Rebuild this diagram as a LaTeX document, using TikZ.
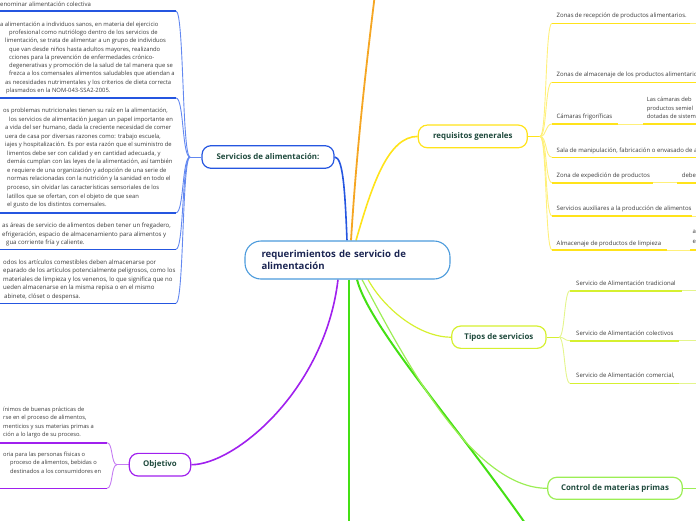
\documentclass[tikz,border=0pt]{standalone}
\usepackage{fontspec}
\setmainfont{Open Sans}
\usetikzlibrary{calc}
\definecolor{txtc}{HTML}{3A3A3A}
\definecolor{lblc}{HTML}{1F4A3D}
\definecolor{navy}{HTML}{1B2552}
\definecolor{cblue}{HTML}{4C9BDC}
\definecolor{bl}{HTML}{2556E0}
\definecolor{bll}{HTML}{6388F0}
\definecolor{orng}{HTML}{F5A623}
\definecolor{yel}{HTML}{FFE31A}
\definecolor{yell}{HTML}{FFF07A}
\definecolor{lime}{HTML}{D6F030}
\definecolor{limel}{HTML}{E4F58C}
\definecolor{grn}{HTML}{44E014}
\definecolor{lgrn}{HTML}{9CEE55}
\definecolor{pur}{HTML}{A020EE}
\definecolor{purl}{HTML}{C57CF2}
\newcommand\lo[2]{\hspace*{#1pt}#2}
\pgfdeclarelayer{bg}
\pgfsetlayers{bg,main}
\begin{document}
\begin{tikzpicture}[x=1pt,y=-1pt,
 txt/.style={inner sep=0pt,anchor=north west,align=left,text=txtc,font=\fontsize{6.0}{8.4}\selectfont},
 stxt/.style={inner sep=0pt,anchor=base west,text=txtc,font=\fontsize{6.0}{8.4}\selectfont},
 topic/.style={draw,line width=1.2pt,fill=white,rounded corners=9pt,inner sep=0pt,text=lblc,font=\bfseries\fontsize{7.9}{9}\selectfont},
 ul/.style={line width=1.6pt},
 br/.style={line width=0.9pt},
 mainln/.style={line width=1.6pt}]
\useasboundingbox (0,0) rectangle (696,520);

% ---------- main nodes
\node[draw=cblue,line width=1.1pt,fill=white,rounded corners=16pt,minimum width=205pt,minimum height=38pt,
      text width=172pt,align=left,inner sep=0pt,text=navy,font=\bfseries\fontsize{9.6}{12.7}\selectfont]
      (c) at (347.5,260) {requerimientos de servicio de\\alimentación};
\node[topic,draw=bl,minimum width=132pt,minimum height=22.6pt] (srv) at (268,157) {Servicios de alimentación:};
\node[topic,draw=yel,minimum width=109pt,minimum height=22.7pt] (rq) at (472.8,136.4) {requisitos generales};
\node[topic,draw=lime,minimum width=94.3pt,minimum height=22.3pt] (tp) at (498.9,337.2) {Tipos de servicios};
\node[topic,draw=lgrn,minimum width=134.6pt,minimum height=22pt] (cm) at (615,488.3) {Control de materias primas};
\node[topic,draw=pur,minimum width=61.4pt,minimum height=22.7pt] (ob) at (160,464.7) {Objetivo};

% ---------- off-canvas ends
\coordinate (otop) at (378,-30);
\coordinate (gdown) at (349,530);
\coordinate (gdiag) at (540,545);
\coordinate (cmr) at (700,488.3);

% ---------- left blue texts
\node[txt] (b1) at (0,1.5) {enominar alimentación colectiva};
\node[txt,font=\fontsize{5.85}{8.3}\selectfont] (b2) at (0,21.5) {\lo{0}{a alimentación a individuos sanos, en materia del ejercicio}\\
\lo{9}{profesional como nutriólogo dentro de los servicios de}\\
\lo{5}{limentación, se trata de alimentar a un grupo de individuos}\\
\lo{9}{que van desde niños hasta adultos mayores, realizando}\\
\lo{9}{cciones para la prevención de enfermedades crónico-}\\
\lo{9}{degenerativas y promoción de la salud de tal manera que se}\\
\lo{9}{frezca a los comensales alimentos saludables que atiendan a}\\
\lo{5}{as necesidades nutrimentales y los criterios de dieta correcta}\\
\lo{6}{plasmados en la NOM-043-SSA2-2005.}};
\node[txt,font=\fontsize{5.85}{8.55}\selectfont] (b3) at (0,107.9) {\lo{3}{os problemas nutricionales tienen su raíz en la alimentación,}\\
\lo{9}{los servicios de alimentación juegan un papel importante en}\\
\lo{5}{a vida del ser humano, dada la creciente necesidad de comer}\\
\lo{5}{uera de casa por diversas razones como: trabajo escuela,}\\
\lo{5}{iajes y hospitalización. Es por esta razón que el suministro de}\\
\lo{7}{limentos debe ser con calidad y en cantidad adecuada, y}\\
\lo{7}{demás cumplan con las leyes de la alimentación, así también}\\
\lo{7}{e requiere de una organización y adopción de una serie de}\\
\lo{7}{normas relacionadas con la nutrición y la sanidad en todo el}\\
\lo{7}{proceso, sin olvidar las características sensoriales de los}\\
\lo{7}{latillos que se ofertan, con el objeto de que sean}\\
\lo{7}{el gusto de los distintos comensales.}};
\node[txt,font=\fontsize{6.05}{8.5}\selectfont] (b4) at (0,222.9) {\lo{2}{as áreas de servicio de alimentos deben tener un fregadero,}\\
\lo{2}{efrigeración, espacio de almacenamiento para alimentos y}\\
\lo{6}{gua corriente fría y caliente.}};
\node[txt,font=\fontsize{6.05}{8.42}\selectfont] (b5) at (0,259.5) {\lo{3}{odos los artículos comestibles deben almacenarse por}\\
\lo{3}{eparado de los artículos potencialmente peligrosos, como los}\\
\lo{3}{materiales de limpieza y los venenos, lo que significa que no}\\
\lo{3}{ueden almacenarse en la misma repisa o en el mismo}\\
\lo{4}{abinete, clóset o despensa.}};
\coordinate (sj) at (190,157);
\foreach \i/\y in {1/11,2/98,3/212.8,4/249.3,5/303.3}{
  \coordinate (b\i a) at (-5,\y);
  \coordinate (b\i b) at (176,\y);
}

% ---------- objetivo texts
\node[txt,font=\fontsize{5.75}{8.1}\selectfont] (o1) at (0,407.2) {\lo{3}{ínimos de buenas prácticas de}\\
\lo{3}{rse en el proceso de alimentos,}\\
\lo{3}{menticios y sus materias primas a}\\
\lo{3}{ción a lo largo de su proceso.}};
\node[txt,font=\fontsize{5.75}{8.7}\selectfont] (o2) at (0,451.5) {\lo{3}{oria para las personas físicas o}\\
\lo{10}{proceso de alimentos, bebidas o}\\
\lo{10}{destinados a los consumidores en}};
\coordinate (oj) at (117,464.7);
\coordinate (o1a) at (-5,442.7); \coordinate (o1b) at (107,442.7);
\coordinate (o2a) at (-5,488.3); \coordinate (o2b) at (107,488.3);

% ---------- requisitos children
\node[stxt] (r1) at (556.5,17.6) {\makebox[130pt][s]{Zonas de recepción de productos alimentarios.}};
\node[stxt] (r2) at (556.5,76.5) {Zonas de almacenaje de los productos alimentario};
\node[stxt] (r3) at (556.5,118.3) {Cámaras frigoríficas};
\node[txt,font=\fontsize{5.75}{8.35}\selectfont] (r3g) at (646.7,97.2) {Las cámaras deb\\productos semiel\\dotadas de sistem};
\node[stxt] (r4) at (556.5,152.8) {Sala de manipulación, fabricación o envasado de a};
\node[stxt] (r5) at (556.5,177.8) {Zona de expedición de productos};
\node[stxt] (r5g) at (681.7,177.6) {debe};
\node[stxt] (r6) at (556.5,210.5) {Servicios auxiliares a la producción de alimentos};
\node[stxt] (r7) at (556.5,245.1) {Almacenaje de productos de limpieza};
\node[txt,font=\fontsize{6.0}{9.5}\selectfont] (r7g) at (692.5,230.3) {a\\e};
\coordinate (rj) at (540,136.4);
\coordinate (r1a) at (552,23.3);   \coordinate (r1b) at (690,23.3);  \coordinate (r1c) at (700,23.3);
\coordinate (r2a) at (552,82.3);   \coordinate (r2b) at (700,82.3);
\coordinate (r3a) at (552,124);    \coordinate (r3b) at (618,124);   \coordinate (r3c) at (643,124); \coordinate (r3d) at (700,124);
\coordinate (r4a) at (552,157.3);  \coordinate (r4b) at (700,157.3);
\coordinate (r5a) at (552,182.7);  \coordinate (r5b) at (653,182.7); \coordinate (r5c) at (677,182.7); \coordinate (r5d) at (700,182.7);
\coordinate (r6a) at (552,216);    \coordinate (r6b) at (692,216);   \coordinate (r6c) at (700,216);
\coordinate (r7a) at (552,250);    \coordinate (r7b) at (667,250);   \coordinate (r7c) at (690,250); \coordinate (r7d) at (700,250);

% ---------- tipos children
\node[stxt] (t1) at (576,285.1) {Servicio de Alimentación tradicional};
\node[stxt] (t2) at (576,335.1) {Servicio de Alimentación colectivos};
\node[stxt] (t3) at (576,377.1) {Servicio de Alimentación comercial,};
\coordinate (tj) at (559,337.2);
\coordinate (t1a) at (570,290.7); \coordinate (t1b) at (681.7,290.7); \coordinate (t1c) at (700,290.7);
\coordinate (t2a) at (570,340.7); \coordinate (t2b) at (679,340.7);   \coordinate (t2c) at (700,340.7);
\coordinate (t3a) at (570,383.3); \coordinate (t3b) at (679,383.3);   \coordinate (t3c) at (700,383.3);

\begin{pgfonlayer}{bg}
% main connectors
\draw[mainln,orng,line width=1.8pt] ([xshift=3.5pt]c.north) .. controls (356,160) and (364,80) .. (otop);
\draw[mainln,bl] ([xshift=-0.5pt]c.north) .. controls (345,190) and (343,157) .. (srv.east);
\draw[mainln,yel] ([xshift=8.5pt]c.north) .. controls (372,185) and (388,136.4) .. (rq.west);
\draw[mainln,pur] ([xshift=-9.5pt]c.south) .. controls (325,390) and (235,464.7) .. (ob.east);
\draw[mainln,grn,line width=1.8pt] ([xshift=1.5pt]c.south) -- (gdown);
\draw[mainln,grn,line width=2pt] ([xshift=9.5pt]c.south) .. controls (370,330) and (470,440) .. (gdiag);
\draw[mainln,lgrn,line width=1.2pt] ([xshift=14.5pt]c.south) .. controls (400,350) and (470,488.3) .. (cm.west);
\draw[mainln,lime,line width=1.2pt] ([xshift=20.5pt]c.south) .. controls (385,310) and (420,337.2) .. (tp.west);
\draw[mainln,lgrn,line width=1.2pt] (cm.east) -- (cmr);

% blue branch
\draw[br,bll] (srv.west) -- (sj);
\foreach \i in {1,...,5}{
  \draw[br,bll] (sj) .. controls +(-8,0) and +(8,0) .. (b\i b);
  \draw[ul,bl] (b\i a) -- (b\i b);
}
% objetivo branch
\draw[br,purl] (ob.west) -- (oj);
\foreach \i in {1,2}{
  \draw[br,purl] (oj) .. controls +(-6,0) and +(6,0) .. (o\i b);
  \draw[ul,pur] (o\i a) -- (o\i b);
}
% requisitos branch
\draw[br,yel,line width=1.2pt] (rq.east) -- (rj);
\foreach \i in {1,...,7}{
  \draw[br,yell] (rj) .. controls +(7,0) and +(-7,0) .. (r\i a);
}
\draw[ul,yel] (r1a) -- (r1b); \draw[br,yell] (r1b) -- (r1c);
\draw[ul,yel] (r2a) -- (r2b);
\draw[ul,yel] (r3a) -- (r3b); \draw[br,yell] (r3b) -- (r3c); \draw[ul,yel] (r3c) -- (r3d);
\draw[ul,yel] (r4a) -- (r4b);
\draw[ul,yel] (r5a) -- (r5b); \draw[br,yell] (r5b) -- (r5c); \draw[ul,yel] (r5c) -- (r5d);
\draw[ul,yel] (r6a) -- (r6b); \draw[br,yell] (r6b) -- (r6c);
\draw[ul,yel] (r7a) -- (r7b); \draw[br,yell] (r7b) -- (r7c); \draw[ul,yel] (r7c) -- (r7d);
% tipos branch
\draw[br,lime] (tp.east) -- (tj);
\foreach \i in {1,2,3}{
  \draw[br,limel] (tj) .. controls +(6,0) and +(-6,0) .. (t\i a);
  \draw[ul,lime] (t\i a) -- (t\i b);
  \draw[br,limel] (t\i b) -- (t\i c);
}
\end{pgfonlayer}
\end{tikzpicture}
\end{document}
